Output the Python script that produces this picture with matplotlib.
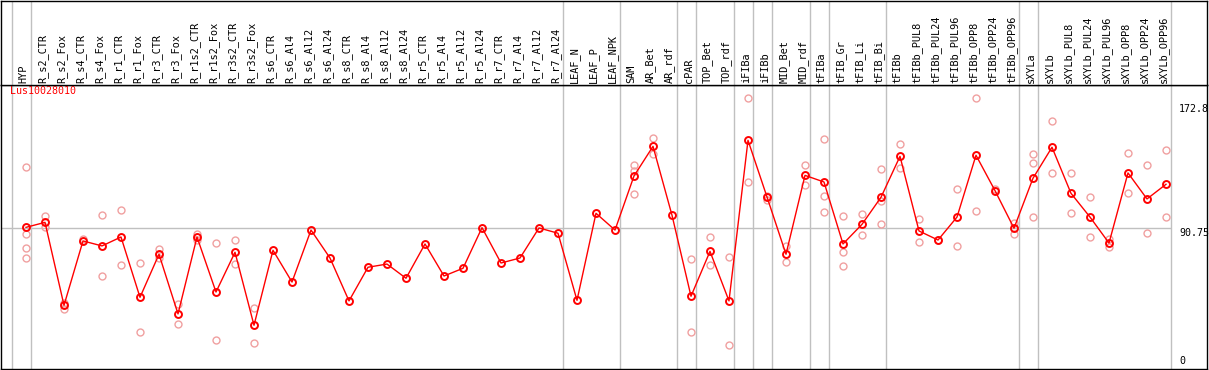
import numpy as np
import matplotlib
matplotlib.use('Agg')
import matplotlib.pyplot as plt

# etiquetas de columnas
muestras = ['HYP',
            'R_s2_CTR', 'R_s2_Fox', 'R_s4_CTR', 'R_s4_Fox', 'R_r1_CTR', 'R_r1_Fox',
            'R_r3_CTR', 'R_r3_Fox', 'R_r1s2_CTR', 'R_r1s2_Fox', 'R_r3s2_CTR', 'R_r3s2_Fox',
            'R_s6_CTR', 'R_s6_Al4', 'R_s6_Al12', 'R_s6_Al24', 'R_s8_CTR', 'R_s8_Al4',
            'R_s8_Al12', 'R_s8_Al24', 'R_r5_CTR', 'R_r5_Al4', 'R_r5_Al12', 'R_r5_Al24',
            'R_r7_CTR', 'R_r7_Al4', 'R_r7_Al12', 'R_r7_Al24',
            'LEAF_N', 'LEAF_P', 'LEAF_NPK',
            'SAM', 'AR_Bet', 'AR_rdf',
            'cPAR',
            'TOP_Bet', 'TOP_rdf',
            'iFIBa',
            'iFIBb',
            'MID_Bet', 'MID_rdf',
            'tFIBa',
            'tFIB_Gr', 'tFIB_Li', 'tFIB_Bi',
            'tFIBb', 'tFIBb_PUL8', 'tFIBb_PUL24', 'tFIBb_PUL96', 'tFIBb_OPP8', 'tFIBb_OPP24', 'tFIBb_OPP96',
            'sXYLa',
            'sXYLb', 'sXYLb_PUL8', 'sXYLb_PUL24', 'sXYLb_PUL96', 'sXYLb_OPP8', 'sXYLb_OPP24', 'sXYLb_OPP96']

# tamaño de cada grupo (lineas grises separan los grupos)
grupos = [1, 28, 3, 3, 1, 2, 1, 1, 2, 1, 3, 7, 1, 7]

gen = 'Lus10028010'

# valores promedio
media = [91.1, 94.4, 39.5, 82.1, 78.8, 84.7, 44.8, 73.3, 33.8, 84.7,
         48.3, 74.6, 26.3, 75.9, 54.9, 89.3, 70.8, 42.4, 64.7, 66.8,
         57.4, 80.1, 58.9, 64.0, 90.9, 67.5, 70.8, 90.7, 87.2, 42.8,
         100.4, 89.3, 125.1, 144.7, 99.1, 45.5, 75.2, 42.4, 148.7, 111.2,
         73.3, 125.5, 121.1, 80.1, 93.1, 111.0, 138.1, 88.7, 82.7, 97.9,
         138.8, 115.4, 90.5, 123.6, 144.1, 113.6, 97.9, 80.7, 127.1, 109.9,
         119.6]

# replicas
replicas = [[130.8, 86.5, 77.2, 70.6], [98.6, 91.1], [41.2, 37.1], [83.2],
            [99.1, 58.9], [102.4, 66.0], [67.3, 21.6], [76.8, 70.6],
            [40.4, 26.9], [86.7, 82.7], [80.5, 16.5], [82.7, 66.8],
            [37.5, 14.4],
            [], [], [], [], [], [], [], [], [], [], [], [], [], [], [], [],
            [], [], [],
            [132.4, 128.6, 113.0], [150.0, 139.4], [],
            [70.0, 21.6],
            [84.7, 66.0], [71.5, 13.0],
            [176.5, 120.9],
            [111.8, 109.2],
            [79.0, 68.0], [132.4, 118.9],
            [149.4, 111.6, 101.1],
            [98.4, 75.0, 65.3], [99.7, 85.8], [129.5, 108.5, 93.5],
            [146.1, 130.2], [96.4, 81.2], [82.7], [116.3, 78.8], [176.5, 101.7], [116.7], [94.2, 86.5],
            [139.6, 133.5, 97.7],
            [161.3, 126.9], [126.9, 100.4], [111.2, 84.7], [83.2, 78.3], [140.3, 113.6], [132.2, 87.2], [142.1, 97.7]]

marcas_y = [172.8, 90.75, 0]

W, H = 1209, 370
fuente = 'DejaVu Sans Mono'
gris = '#c0c0c0'
rosa = '#f0a0a0'

x = np.arange(len(muestras))
xlim = ((1 - 26) / 19, (1207 - 26) / 19)
fin_grupos = np.concatenate([[-1], np.cumsum(grupos) - 1]) + 0.24

fig = plt.figure(figsize=(W / 100, H / 100), dpi=100)
ax = fig.add_axes([1 / W, 1 / H, 1206 / W, 284 / H])
cab = fig.add_axes([1 / W, 285 / H, 1206 / W, 84.5 / H])

for a in (ax, cab):
    a.set_xlim(xlim)
    a.set_xticks([])
    a.set_yticks([])
    for s in a.spines.values():
        s.set_color('black')
        s.set_linewidth(1)
    for xv in fin_grupos:
        a.axvline(xv, color=gris, lw=1, zorder=0)

cab.set_ylim(0, 1)
for i, nombre in enumerate(muestras):
    cab.text(i - 0.12, 2 / 84.5, nombre, rotation=90, ha='center', va='bottom',
             fontsize=7.4, family=fuente)

ax.set_ylim(-2.65, 185.3)
ax.hlines(marcas_y[1], xlim[0], fin_grupos[-1], color=gris, lw=1, zorder=0)

for i, reps in enumerate(replicas):
    if reps:
        ax.plot([i] * len(reps), reps, 'o', mfc='none', mec=rosa, ms=5, mew=1, zorder=2)

ax.plot(x, media, '-', color='red', lw=1, zorder=3)
ax.plot(x, media, 'o', mfc='none', mec='red', ms=5, mew=1.4, zorder=4)

ax.text((10 - 26) / 19, 181.5, gen, color='red', fontsize=7.2, family=fuente,
        ha='left', va='center')

tx = (1179 - 26) / 19
ax.text(tx, marcas_y[0], '172.8', fontsize=7.2, family=fuente, ha='left', va='top')
ax.text(tx, marcas_y[1], '90.75', fontsize=7.2, family=fuente, ha='left', va='top')
ax.text(tx, marcas_y[2] - 0.7, '0', fontsize=7.2, family=fuente, ha='left', va='bottom')

fig.savefig('out.png', dpi=100)
